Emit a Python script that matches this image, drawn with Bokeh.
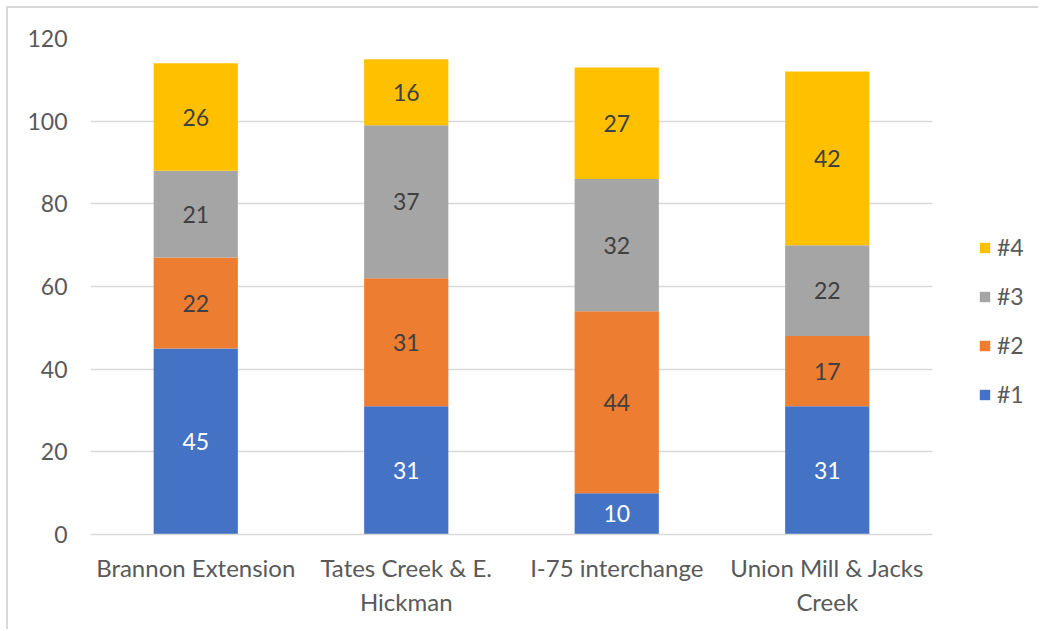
import numpy as np
from bokeh.plotting import figure
from bokeh.models import (ColumnDataSource, FixedTicker, Legend, LegendItem,
                          Range1d, LabelSet)
from bokeh.core.properties import value
from bokeh.embed import file_html
from bokeh.resources import INLINE

# Survey results per project location
categories = ["Brannon Extension", "Tates Creek & E. Hickman",
              "I-75 interchange", "Union Mill & Jacks Creek"]
tick_labels = ["Brannon Extension", "Tates Creek & E.\nHickman",
               "I-75 interchange", "Union Mill & Jacks\nCreek"]
series = ["#1", "#2", "#3", "#4"]
s1 = [45, 31, 10, 31]
s2 = [22, 31, 44, 17]
s3 = [21, 37, 32, 22]
s4 = [26, 16, 27, 42]
colors = ["#4472C4", "#ED7D31", "#A5A5A5", "#FFC000"]
label_colors = ["#FFFFFF", "#404040", "#404040", "#404040"]
y_ticks = [0, 20, 40, 60, 80, 100, 120]

FONT = "Lato"
TEXT_GRAY = "#595959"
GRID_GRAY = "#D9D9D9"

n = len(categories)
x = np.arange(n) + 0.5
values = [s1, s2, s3, s4]

data = {"x": x}
for name, vals in zip(series, values):
    data[name] = vals
source = ColumnDataSource(data)

# the frame also hosts the legend on its right, so the x range runs past the
# last category; grid and axis line stop at the category block
plot_px = 842   # width of the category block in pixels
frame_px = 940  # full frame width in pixels
p = figure(width=1032, height=623, output_backend="svg", toolbar_location=None,
           x_range=Range1d(0, n * frame_px / plot_px), y_range=Range1d(0, 120),
           min_border_left=82, min_border_right=1032 - 82 - frame_px,
           min_border_top=30, min_border_bottom=97)
p.styles = {"margin-left": "6px", "margin-top": "6px",
            "border-left": "2px solid #D9D9D9", "border-top": "2px solid #D9D9D9"}
p.outline_line_color = None
p.background_fill_color = "white"
p.border_fill_color = "white"

renderers = p.vbar_stack(series, x="x", width=0.4, color=colors, line_color=None,
                         source=source)

# segment labels centred in each stacked block
bottom = np.zeros(n)
for vals, tcolor in zip(values, label_colors):
    vals = np.array(vals, dtype=float)
    mids = bottom + vals / 2
    lab_src = ColumnDataSource({"x": x, "y": mids, "t": [str(int(v)) for v in vals]})
    p.add_layout(LabelSet(x="x", y="y", text="t", source=lab_src,
                          text_align="center", text_baseline="middle",
                          text_font=value(FONT), text_font_size=value("23px"),
                          text_color=value(tcolor)))
    bottom = bottom + vals

# axes
p.xaxis.ticker = FixedTicker(ticks=list(x))
p.xaxis.major_label_overrides = {float(xi): lab for xi, lab in zip(x, tick_labels)}
p.xaxis.major_label_text_font = FONT
p.xaxis.major_label_text_font_size = "24px"
p.xaxis.major_label_text_color = TEXT_GRAY
p.xaxis.major_label_standoff = 12
p.xaxis.axis_line_color = GRID_GRAY
p.xaxis.axis_line_width = 1.5
p.xaxis.bounds = (0, n)
p.xaxis.major_tick_line_color = None
p.xaxis.minor_tick_line_color = None

p.yaxis.ticker = FixedTicker(ticks=y_ticks)
p.yaxis.major_label_text_font = FONT
p.yaxis.major_label_text_font_size = "23px"
p.yaxis.major_label_text_color = TEXT_GRAY
p.yaxis.major_label_standoff = 17
p.yaxis.axis_line_color = None
p.yaxis.major_tick_line_color = None
p.yaxis.minor_tick_line_color = None

p.xgrid.grid_line_color = None
p.ygrid.grid_line_color = GRID_GRAY
p.ygrid.grid_line_width = 1.5
p.ygrid.cross_bounds = (0, n)

# legend, listed top-down from #4 to #1
items = [LegendItem(label=name, renderers=[r]) for name, r in zip(series, renderers)]
legend = Legend(items=list(reversed(items)), location=(888, 126),
                glyph_width=13, glyph_height=13, label_standoff=6,
                label_height=20, spacing=21, padding=0, margin=0,
                label_text_font=FONT, label_text_font_size="23px",
                label_text_color=TEXT_GRAY, border_line_color=None,
                background_fill_alpha=0)
p.add_layout(legend, "center")

open("out.html", "w").write(file_html(p, INLINE))
